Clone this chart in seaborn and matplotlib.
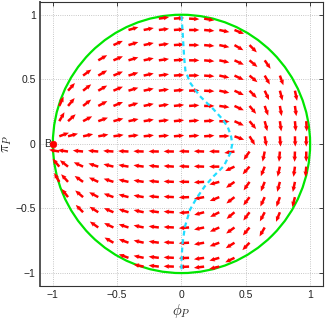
import numpy as np
import pandas as pd
import matplotlib
matplotlib.use("Agg")
import matplotlib.pyplot as plt
import seaborn as sns

# Arrow grid, one row per pi_P level (tail positions)
ROW_Y = [0.97, 0.882, 0.765, 0.647, 0.529, 0.412, 0.294, 0.176, 0.059,
         -0.059, -0.176, -0.294, -0.412, -0.529, -0.647, -0.765, -0.882, -0.95]

ROW_X = [
    [-0.176, -0.059, 0.059, 0.176],
    [-0.412, -0.294, -0.176, -0.059, 0.059, 0.176, 0.294, 0.412],
    [-0.529, -0.412, -0.294, -0.176, -0.059, 0.059, 0.176, 0.294, 0.412, 0.529],
    [-0.647, -0.529, -0.412, -0.294, -0.176, -0.059, 0.059, 0.176, 0.294, 0.412, 0.529, 0.647],
    [-0.765, -0.647, -0.529, -0.412, -0.294, -0.176, -0.059, 0.059, 0.176, 0.294, 0.412, 0.529, 0.647, 0.765],
    [-0.882, -0.765, -0.647, -0.529, -0.412, -0.294, -0.176, -0.059, 0.059, 0.176, 0.294, 0.412, 0.529, 0.647, 0.765, 0.882],
    [-0.95, -0.882, -0.765, -0.647, -0.529, -0.412, -0.294, -0.176, -0.059, 0.059, 0.176, 0.294, 0.412, 0.529, 0.647, 0.765, 0.882],
    [-0.95, -0.882, -0.765, -0.647, -0.529, -0.412, -0.294, -0.176, -0.059, 0.059, 0.176, 0.294, 0.412, 0.529, 0.647, 0.765, 0.882, 0.97],
    [-0.95, -0.882, -0.765, -0.647, -0.529, -0.412, -0.294, -0.176, -0.059, 0.059, 0.176, 0.294, 0.412, 0.529, 0.647, 0.765, 0.882, 0.97],
    [-0.95, -0.882, -0.765, -0.647, -0.529, -0.412, -0.294, -0.176, -0.059, 0.059, 0.176, 0.294, 0.412, 0.529, 0.647, 0.765, 0.882, 0.97],
    [-0.95, -0.882, -0.765, -0.647, -0.529, -0.412, -0.294, -0.176, -0.059, 0.059, 0.176, 0.294, 0.412, 0.529, 0.647, 0.765, 0.882, 0.97],
    [-0.95, -0.882, -0.765, -0.647, -0.529, -0.412, -0.294, -0.176, -0.059, 0.059, 0.176, 0.294, 0.412, 0.529, 0.647, 0.765, 0.882],
    [-0.882, -0.765, -0.647, -0.529, -0.412, -0.294, -0.176, -0.059, 0.059, 0.176, 0.294, 0.412, 0.529, 0.647, 0.765, 0.882],
    [-0.765, -0.647, -0.529, -0.412, -0.294, -0.176, -0.059, 0.059, 0.176, 0.294, 0.412, 0.529, 0.647, 0.765],
    [-0.647, -0.529, -0.412, -0.294, -0.176, -0.059, 0.059, 0.176, 0.294, 0.412, 0.529, 0.647],
    [-0.529, -0.412, -0.294, -0.176, -0.059, 0.059, 0.176, 0.294, 0.412, 0.529],
    [-0.412, -0.294, -0.176, -0.059, 0.059, 0.176, 0.294, 0.412],
    [-0.294, -0.176, -0.059, 0.059, 0.176, 0.294],
]

# Direction of each arrow in degrees (counter-clockwise from +phi_P)
ROW_ANGLE = [
    [8, 4, -3, -10],
    [16, 11, 7, 4, 0, -5, -12, -22],
    [24, 17, 12, 8, 4, 0, -5, -12, -30, -45],
    [30, 23, 17, 12, 8, 4, 0, -5, -12, -25, -40, -55],
    [36, 30, 23, 17, 12, 8, 4, 1, -4, -12, -25, -40, -60, -70],
    [48, 38, 30, 23, 17, 12, 8, 5, 2, -3, -12, -25, -45, -65, -75, -78],
    [65, 50, 38, 28, 22, 17, 12, 9, 6, 4, 0, -8, -25, -50, -70, -80, -82],
    [60, 42, 28, 20, 15, 12, 9, 7, 6, 5, 4, -3, -25, -50, -75, -82, -85, -87],
    [20, 15, 12, 10, 8, 7, 6, 5, 5, 5, 4, 2, -20, -58, -80, -86, -88, -90],
    [170, 172, 174, 175, 176, 177, 178, 179, 179, 178, 178, 179, 188, 235, 258, 265, 268, 270],
    [130, 142, 155, 162, 166, 170, 172, 174, 176, 177, 178, 180, 205, 228, 248, 257, 262, 265],
    [120, 132, 145, 155, 162, 167, 171, 174, 177, 179, 183, 195, 215, 235, 248, 255, 258],
    [128, 140, 152, 160, 165, 170, 174, 177, 182, 190, 202, 218, 233, 245, 250, 255],
    [135, 148, 157, 163, 168, 172, 176, 184, 195, 207, 220, 233, 242, 248],
    [145, 155, 162, 168, 173, 177, 184, 192, 204, 216, 230, 240],
    [150, 160, 167, 172, 177, 183, 190, 200, 212, 226],
    [160, 168, 173, 177, 182, 188, 196, 206],
    [168, 173, 178, 182, 187, 193],
]

ARROW_LEN = 0.08

# Dashed cyan curve, top to bottom
CYAN_X = [0.0, 0.008, 0.014, 0.02, 0.03, 0.066, 0.143, 0.2, 0.247, 0.32, 0.36, 0.385,
          0.395, 0.38, 0.33, 0.25, 0.18, 0.117, 0.066, 0.027, 0.008, 0.0, 0.0]
CYAN_Y = [0.99, 0.88, 0.78, 0.68, 0.57, 0.475, 0.37, 0.315, 0.27, 0.19, 0.13, 0.06,
          0.0, -0.07, -0.17, -0.25, -0.33, -0.42, -0.51, -0.64, -0.77, -0.9, -0.99]

CIRCLE_R = 1.0
B_X, B_Y = -1.0, 0.0

TICKS = [-1, -0.5, 0, 0.5, 1]
TICK_LABELS = ["\u22121", "\u22120.5", "0", "0.5", "1"]

# Build the arrow table
recs = []
for y, xs, angs in zip(ROW_Y, ROW_X, ROW_ANGLE):
    for x, a in zip(xs, angs):
        recs.append((x, y, a))
arrows = pd.DataFrame(recs, columns=["x", "y", "angle"])
arrows["u"] = ARROW_LEN * np.cos(np.deg2rad(arrows["angle"]))
arrows["v"] = ARROW_LEN * np.sin(np.deg2rad(arrows["angle"]))

sns.set_style("white")
plt.rcParams["font.family"] = ["Liberation Sans", "DejaVu Sans"]
plt.rcParams["mathtext.fontset"] = "cm"

fig = plt.figure(figsize=(3.27, 3.20), dpi=100)
ax = fig.add_axes([0.1223, 0.1063, 0.8654, 0.888])

ax.quiver(arrows["x"], arrows["y"], arrows["u"], arrows["v"],
          angles="xy", scale_units="xy", scale=1, pivot="tail",
          color="#ff0000", width=0.0088, headwidth=1.9, headlength=2.2,
          headaxislength=2.0, zorder=4)

ax.add_patch(plt.Circle((0, 0), CIRCLE_R, fill=False, color="#00e600", lw=1.6, zorder=3))

sns.lineplot(x=CYAN_X, y=CYAN_Y, sort=False, estimator=None, color="#22ddff", lw=1.6,
             linestyle=(0, (2.2, 1.6)), zorder=5, ax=ax)
sns.scatterplot(x=[B_X], y=[B_Y], color="#ff0000", edgecolor="#ff0000", s=24, zorder=6, ax=ax)
ax.text(B_X - 0.015, B_Y, "B", ha="right", va="center", fontsize=7.5, clip_on=False)

ax.set_xlim(-1.1, 1.1)
ax.set_ylim(-1.1, 1.1)
ax.set_xticks(TICKS)
ax.set_xticklabels(TICK_LABELS)
ax.set_yticks(TICKS)
ax.set_yticklabels(TICK_LABELS)
ax.grid(True, linestyle=":", color="#b5b5b5", lw=0.6)
ax.tick_params(direction="in", length=3, width=0.6, labelsize=7.5, pad=3,
               top=True, right=True, colors="#222222")
for side in ["top", "right", "bottom"]:
    ax.spines[side].set_color("#333333")
    ax.spines[side].set_linewidth(0.8)
ax.spines["left"].set_color("#555555")
ax.spines["left"].set_linewidth(1.4)

ax.set_xlabel(r"$\phi_P$", fontsize=10.5, labelpad=1)
ax.set_ylabel(r"$\pi_P$", fontsize=10.5, labelpad=1)

fig.savefig("out.png", dpi=100)
